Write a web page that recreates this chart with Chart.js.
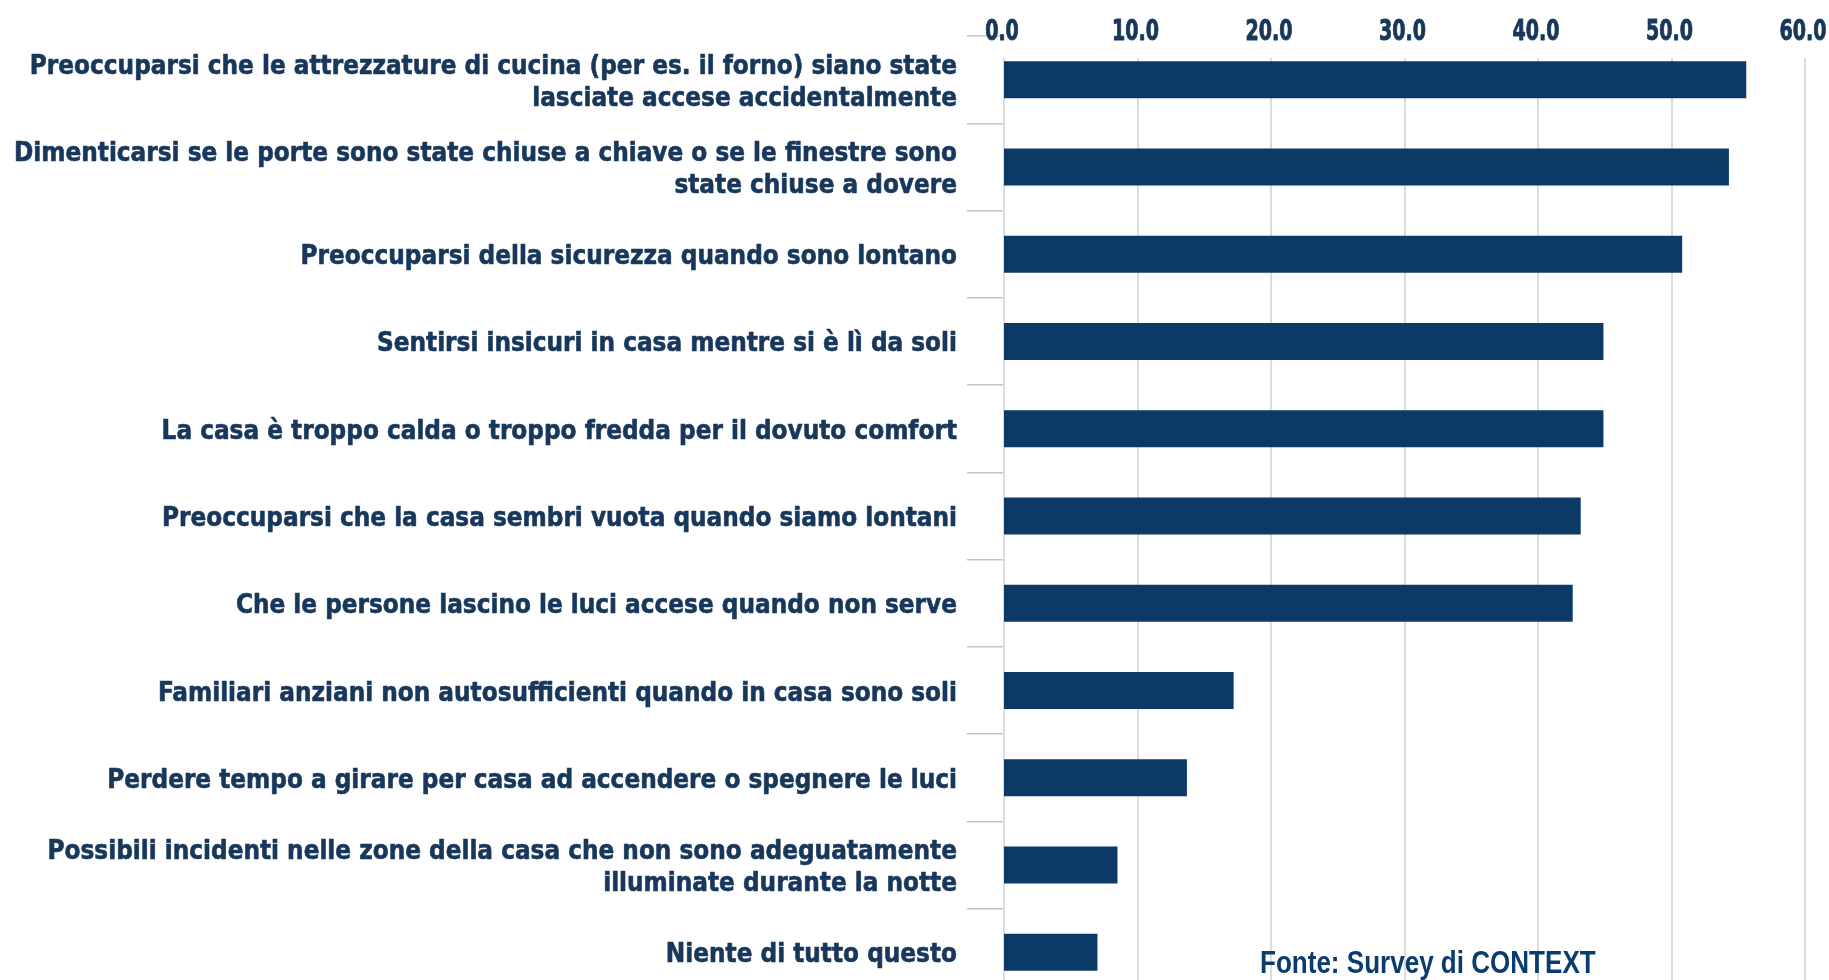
<!DOCTYPE html>
<html lang="it">
<head>
<meta charset="utf-8">
<title>Preoccupazioni in casa</title>
<script src="https://cdn.jsdelivr.net/npm/chart.js@4.4.1/dist/chart.umd.min.js"></script>
<style>
  html, body { margin: 0; padding: 0; overflow: hidden; background: #fff; }
  #wrap { position: relative; width: 1829px; height: 1000px; }
  #chart { display: block; }
  #source {
    position: absolute; left: 1260px; top: 947px;
    font: bold 31px/1 "Liberation Sans", Arial, sans-serif;
    color: #0b3c6e; white-space: nowrap;
    transform: scaleX(0.84); transform-origin: 0 0;
  }
</style>
</head>
<body>
<div id="wrap">
  <canvas id="chart" width="1829" height="1000"></canvas>
  <div id="source">Fonte: Survey di CONTEXT</div>
</div>
<script>
// categories, top to bottom
const categories = [
  ['Preoccuparsi che le attrezzature di cucina (per es. il forno) siano state', 'lasciate accese accidentalmente'],
  ['Dimenticarsi se le porte sono state chiuse a chiave o se le finestre sono', 'state chiuse a dovere'],
  'Preoccuparsi della sicurezza quando sono lontano',
  'Sentirsi insicuri in casa mentre si è lì da soli',
  'La casa è troppo calda o troppo fredda per il dovuto comfort',
  'Preoccuparsi che la casa sembri vuota quando siamo lontani',
  'Che le persone lascino le luci accese quando non serve',
  'Familiari anziani non autosufficienti quando in casa sono soli',
  'Perdere tempo a girare per casa ad accendere o spegnere le luci',
  ['Possibili incidenti nelle zone della casa che non sono adeguatamente', 'illuminate durante la notte'],
  'Niente di tutto questo'
];
const values = [55.6, 54.3, 50.8, 44.9, 44.9, 43.2, 42.6, 17.2, 13.7, 8.5, 7.0];
const xTicks = [0, 10, 20, 30, 40, 50, 60];

const FONT = '"DejaVu Sans Condensed", "DejaVu Sans", sans-serif';
const TEXT = '#17375b';
const LABEL_SIZE = 26.5;
const LABEL_LINE = 32;
const TICK_SIZE = 27.5;
const GRID_TOP = 58;

// the picture uses a narrow heavy face, so squeeze our text horizontally to the same widths
const mctx = document.createElement('canvas').getContext('2d');
mctx.font = 'bold ' + LABEL_SIZE + 'px ' + FONT;
let widest = 0;
categories.flat().forEach(t => { widest = Math.max(widest, mctx.measureText(t).width); });
const labelScaleX = 943 / widest;
mctx.font = 'bold ' + TICK_SIZE + 'px ' + FONT;
const tickScaleX = 47 / mctx.measureText('10.0').width;

function squeezedText(ctx, text, x, y, sx, weight) {
  ctx.save();
  ctx.translate(x, y);
  ctx.scale(sx, 1);
  ctx.fillText(text, 0, 0);
  ctx.lineWidth = weight;
  ctx.strokeText(text, 0, 0);
  ctx.restore();
}

const axisText = {
  id: 'axisText',
  beforeDatasetsDraw(chart) {
    const { ctx, chartArea, scales: { x } } = chart;
    ctx.save();
    ctx.strokeStyle = '#dcdcdc';
    ctx.lineWidth = 2;
    xTicks.forEach(v => {
      const px = Math.round(x.getPixelForValue(v));
      ctx.beginPath();
      ctx.moveTo(px, GRID_TOP);
      ctx.lineTo(px, chartArea.bottom);
      ctx.stroke();
    });
    ctx.restore();
  },
  afterDraw(chart) {
    const { ctx, scales: { x, y } } = chart;
    ctx.save();
    ctx.fillStyle = TEXT;
    ctx.strokeStyle = TEXT;
    ctx.lineJoin = 'round';
    ctx.textBaseline = 'alphabetic';

    ctx.font = 'bold ' + TICK_SIZE + 'px ' + FONT;
    ctx.textAlign = 'center';
    xTicks.forEach(v => {
      squeezedText(ctx, v.toFixed(1), x.getPixelForValue(v) - 2, 40, tickScaleX, 0.9);
    });

    ctx.font = 'bold ' + LABEL_SIZE + 'px ' + FONT;
    ctx.textAlign = 'right';
    const right = y.right - 47;
    categories.forEach((label, i) => {
      const lines = [].concat(label);
      const yc = y.getPixelForTick(i);
      lines.forEach((line, j) => {
        const ly = yc + (j - (lines.length - 1) / 2) * LABEL_LINE + 10;
        squeezedText(ctx, line, right, ly, labelScaleX, 0.6);
      });
    });
    ctx.restore();
  }
};

new Chart(document.getElementById('chart'), {
  type: 'bar',
  data: {
    labels: categories,
    datasets: [{
      data: values,
      backgroundColor: '#0b3a66',
      barPercentage: 0.424,
      categoryPercentage: 1
    }]
  },
  options: {
    indexAxis: 'y',
    responsive: false,
    animation: false,
    layout: { padding: { top: 0, right: 24, bottom: 4, left: 0 } },
    plugins: { legend: { display: false }, tooltip: { enabled: false } },
    scales: {
      x: {
        position: 'top',
        min: 0,
        max: 60,
        afterBuildTicks: s => { s.ticks = xTicks.map(v => ({ value: v })); },
        afterFit: s => { s.height = 36; },
        grid: { display: false },
        border: { display: false },
        ticks: { display: false }
      },
      y: {
        afterFit: s => { s.width = 1004; },
        grid: { drawOnChartArea: false, tickLength: 37, color: '#c4c4c4', lineWidth: 1.5, offset: true },
        border: { display: false },
        ticks: { display: false }
      }
    }
  },
  plugins: [axisText]
});
</script>
</body>
</html>
